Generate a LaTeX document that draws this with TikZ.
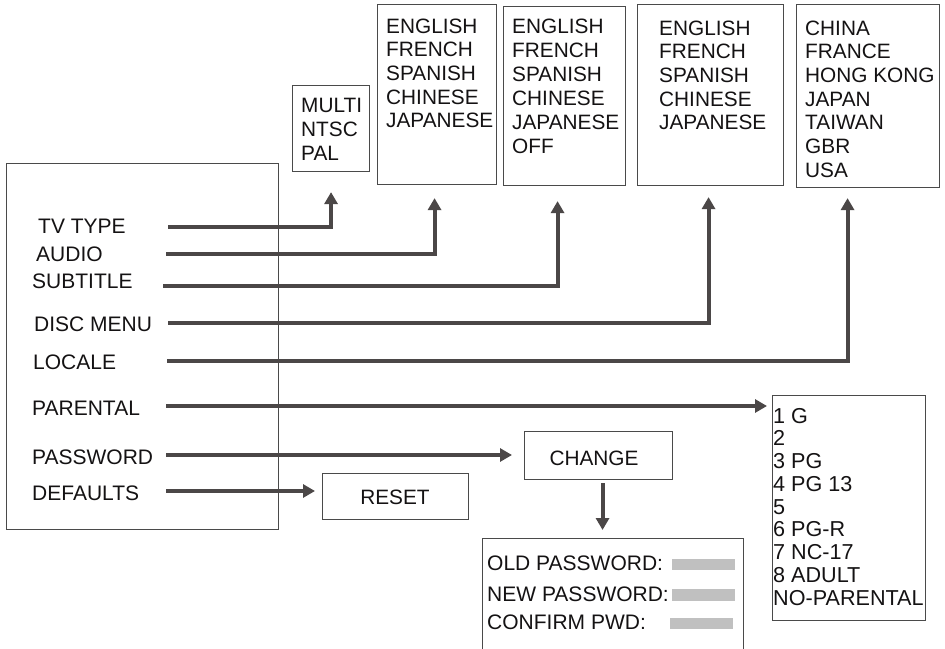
\documentclass[tikz,border=0pt]{standalone}
\usepackage{fontspec}
\setmainfont{Liberation Sans}
\usetikzlibrary{arrows.meta}
\definecolor{arrowgray}{HTML}{4B4747}
\definecolor{boxgray}{HTML}{4A4A4A}
\definecolor{inkgray}{HTML}{141213}
\definecolor{fieldgray}{HTML}{C0C0C0}
\tikzset{
  boxnode/.style={draw=boxgray, line width=1.1pt, inner sep=0pt, anchor=north west},
  lbl/.style={inner sep=0pt, anchor=base west, text=inkgray, font=\fontsize{20.8}{24}\selectfont},
  menulbl/.style={lbl, font=\fontsize{21}{24}\selectfont},
  parlbl/.style={lbl, font=\fontsize{21.6}{24}\selectfont},
  field/.style={fill=fieldgray, draw=none, inner sep=0pt, anchor=north west},
  arr/.style={draw=arrowgray, line width=4pt, -{Triangle[length=12pt,width=13pt]}},
}
\begin{document}
\begin{tikzpicture}[x=1pt,y=-1pt]
\useasboundingbox (0,0) rectangle (945,648);
\clip (0,0) rectangle (945,648);

% boxes
\node[boxnode, minimum width=272pt, minimum height=366pt] (menu) at (6,163) {};
\node[boxnode, minimum width=77pt, minimum height=86pt] (multi) at (292,85) {};
\node[boxnode, minimum width=119pt, minimum height=180pt] (audio) at (377,4) {};
\node[boxnode, minimum width=122pt, minimum height=179pt] (subt) at (503,6) {};
\node[boxnode, minimum width=146pt, minimum height=181pt] (disc) at (637,4) {};
\node[boxnode, minimum width=143pt, minimum height=183pt] (loc) at (796,4) {};
\node[boxnode, minimum width=153pt, minimum height=225pt] (par) at (772,395) {};
\node[boxnode, minimum width=146pt, minimum height=46pt] (reset) at (322,473) {};
\node[boxnode, minimum width=148pt, minimum height=48pt] (change) at (524,431) {};
\node[boxnode, minimum width=261pt, minimum height=140pt] (pwd) at (482,538) {};

% menu labels
\node[menulbl] (tvtype) at (38,233) {TV TYPE};
\node[menulbl] (audiolbl) at (36,261) {AUDIO};
\node[menulbl] (subtlbl) at (32,288) {SUBTITLE};
\node[menulbl] (disclbl) at (34,331) {DISC MENU};
\node[menulbl] (loclbl) at (33,369) {LOCALE};
\node[menulbl] (parlbl) at (32,415) {PARENTAL};
\node[menulbl] (pwdlbl) at (32,464) {PASSWORD};
\node[menulbl] (deflbl) at (32,500) {DEFAULTS};

% option lists
\foreach \w [count=\i from 0] in {MULTI,NTSC,PAL}
  \node[lbl] (mu\i) at (301,{112+24*\i}) {\w};
\foreach \w [count=\i from 0] in {ENGLISH,FRENCH,SPANISH,CHINESE,JAPANESE}
  \node[lbl] (au\i) at (386,{33+23.7*\i}) {\w};
\foreach \w [count=\i from 0] in {ENGLISH,FRENCH,SPANISH,CHINESE,JAPANESE,OFF}
  \node[lbl] (su\i) at (512,{33+24*\i}) {\w};
\foreach \w [count=\i from 0] in {ENGLISH,FRENCH,SPANISH,CHINESE,JAPANESE}
  \node[lbl] (di\i) at (659,{35+23.7*\i}) {\w};
\foreach \w [count=\i from 0] in {CHINA,FRANCE,HONG KONG,JAPAN,TAIWAN,GBR,USA}
  \node[lbl] (lo\i) at (805,{35+23.7*\i}) {\w};
\foreach \w [count=\i from 0] in {1 G,2,3 PG,4 PG 13,5,6 PG-R,7 NC-17,8 ADULT,NO-PARENTAL}
  \node[parlbl] (pa\i) at (773,{423+22.75*\i}) {\w};

\node[lbl, anchor=base] (resettxt) at (395,504) {RESET};
\node[lbl, anchor=base] (changetxt) at (594,465) {CHANGE};

\node[menulbl] (oldpw) at (487,570) {OLD PASSWORD:};
\node[menulbl] (newpw) at (487,601) {NEW PASSWORD:};
\node[menulbl] (confpw) at (487,629) {CONFIRM PWD:};
\node[field, minimum width=63pt, minimum height=11pt] (f1) at (672,559) {};
\node[field, minimum width=63pt, minimum height=12pt] (f2) at (672,589) {};
\node[field, minimum width=63pt, minimum height=11pt] (f3) at (670,618) {};

% connector start points
\coordinate (s1) at (168,227);
\coordinate (s2) at (166,254);
\coordinate (s3) at (163,286);
\coordinate (s4) at (168,323);
\coordinate (s5) at (167,361);
\coordinate (s6) at (166,406);
\coordinate (s7) at (166,455);
\coordinate (s8) at (166,491);

% connectors
\draw[arr] (s1) -| ([yshift=-20pt]multi.south);
\draw[arr] (s2) -| ([xshift=-2.5pt,yshift=-13pt]audio.south);
\draw[arr] (s3) -| ([xshift=-7pt,yshift=-15pt]subt.south);
\draw[arr] (s4) -| ([xshift=-2pt,yshift=-11pt]disc.south);
\draw[arr] (s5) -| ([xshift=-20.5pt,yshift=-10pt]loc.south);
\draw[arr, shorten >=5pt] (s6) -- (s6 -| par.west);
\draw[arr, shorten >=12pt] (s7) -- (s7 -| change.west);
\draw[arr, shorten >=7pt] (s8) -- (s8 -| reset.west);
\draw[arr, shorten <=3pt, shorten >=8pt] ([xshift=4pt]change.south) -- ([xshift=4pt]change.south |- pwd.north);
\end{tikzpicture}
\end{document}
